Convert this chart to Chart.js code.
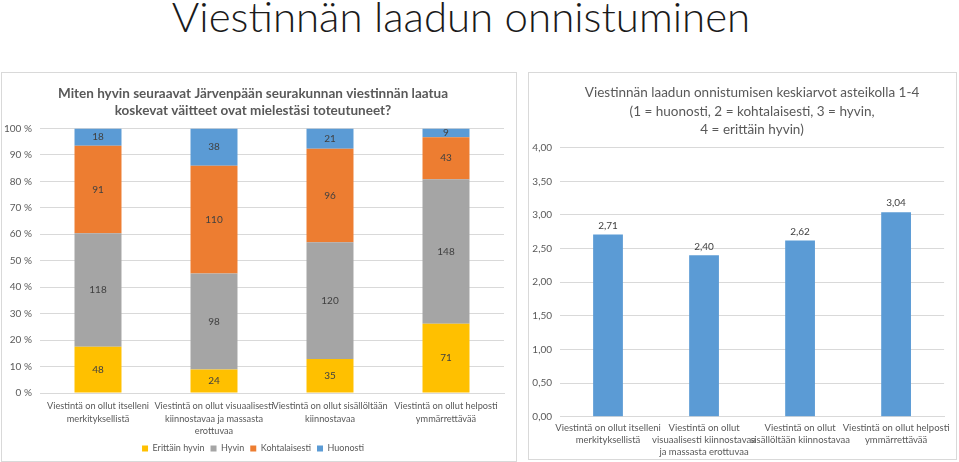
<!DOCTYPE html>
<html>
<head>
<meta charset="utf-8">
<script src="https://cdn.jsdelivr.net/npm/chart.js@4"></script>
<style>
  body { margin: 0; background: #fff; width: 959px; height: 462px; overflow: hidden; position: relative; font-family: Lato, sans-serif; }
  #mainTitle { position: absolute; left: 0; width: 922px; top: -9px; text-align: center; font-size: 42px; font-weight: 300; color: #1a1a1a; white-space: nowrap; }
  .box { position: absolute; border: 1px solid #d9d9d9; background: #fff; }
  .box canvas { display: block; }
</style>
</head>
<body>
<div id="mainTitle">Viestinnän laadun onnistuminen</div>
<div class="box" style="left:1px; top:72px; width:514px; height:388px;">
  <canvas id="stackChart" width="514" height="388"></canvas>
</div>
<div class="box" style="left:528px; top:72px; width:427px; height:386px;">
  <canvas id="avgChart" width="427" height="386"></canvas>
</div>
<script>
// Kategoriat (vasen kaavio)
const leftLabels = [
    ['Viestintä on ollut itselleni', 'merkityksellistä'],
    ['Viestintä on ollut visuaalisesti', 'kiinnostavaa ja massasta', 'erottuvaa'],
    ['Viestintä on ollut sisällöltään', 'kiinnostavaa'],
    ['Viestintä on ollut helposti', 'ymmärrettävää']
];
// Kategoriat (oikea kaavio)
const rightLabels = [
    ['Viestintä on ollut itselleni', 'merkityksellistä'],
    ['Viestintä on ollut', 'visuaalisesti kiinnostavaa', 'ja massasta erottuvaa'],
    ['Viestintä on ollut', 'sisällöltään kiinnostavaa'],
    ['Viestintä on ollut helposti', 'ymmärrettävää']
];

// Vastausmäärät
const erittainHyvin = [48, 24, 35, 71];
const hyvin = [118, 98, 120, 148];
const kohtalaisesti = [91, 110, 96, 43];
const huonosti = [18, 38, 21, 9];

// Keskiarvot 1-4
const keskiarvot = [2.71, 2.40, 2.62, 3.04];

const percentTicks = [0, 10, 20, 30, 40, 50, 60, 70, 80, 90, 100];

const txt = '#595959';
const gridCol = '#d9d9d9';
const font = 'Lato';

const totals = erittainHyvin.map((v, i) => v + hyvin[i] + kohtalaisesti[i] + huonosti[i]);
const toPct = arr => arr.map((v, i) => v / totals[i] * 100);

const series = [
    { label: 'Erittäin hyvin', counts: erittainHyvin, color: '#FFC000' },
    { label: 'Hyvin', counts: hyvin, color: '#A5A5A5' },
    { label: 'Kohtalaisesti', counts: kohtalaisesti, color: '#ED7D31' },
    { label: 'Huonosti', counts: huonosti, color: '#5B9BD5' }
];

// Arvot palkkien sisään / päälle
const valueLabels = {
    id: 'valueLabels',
    afterDatasetsDraw(chart, args, opts) {
        const ctx = chart.ctx;
        ctx.save();
        ctx.font = '10px ' + font;
        ctx.fillStyle = '#404040';
        ctx.textAlign = 'center';
        ctx.textBaseline = 'middle';
        chart.data.datasets.forEach((ds, di) => {
            chart.getDatasetMeta(di).data.forEach((bar, i) => {
                if (opts.mode === 'inside') {
                    ctx.fillText(String(ds.counts[i]), bar.x, (bar.y + bar.base) / 2);
                } else {
                    ctx.fillText(ds.data[i].toFixed(2).replace('.', ','), bar.x, bar.y - 9);
                }
            });
        });
        ctx.restore();
    }
};

window.onload = () => {
    new Chart(document.getElementById('stackChart'), {
        type: 'bar',
        data: {
            labels: leftLabels,
            datasets: series.map(s => ({
                label: s.label,
                data: toPct(s.counts),
                counts: s.counts,
                backgroundColor: s.color,
                barPercentage: 0.405,
                categoryPercentage: 1
            }))
        },
        options: {
            responsive: false,
            animation: false,
            layout: { padding: { left: 0, right: 12, top: 13, bottom: -2 } },
            plugins: {
                title: {
                    display: true,
                    text: ['Miten hyvin seuraavat Järvenpään seurakunnan viestinnän laatua', 'koskevat väitteet ovat mielestäsi toteutuneet?'],
                    color: txt,
                    font: { family: font, size: 13.5, weight: 'bold', lineHeight: 1.2 },
                    padding: { top: 0, bottom: 10 }
                },
                legend: {
                    position: 'bottom',
                    labels: { color: txt, font: { family: font, size: 9 }, boxWidth: 6, boxHeight: 6, padding: 6 }
                },
                tooltip: { enabled: false },
                valueLabels: { mode: 'inside' }
            },
            scales: {
                x: {
                    stacked: true,
                    afterFit: s => { s.height = 45; },
                    grid: { display: false, drawTicks: false },
                    border: { color: gridCol },
                    ticks: { color: txt, font: { family: font, size: 9.2, lineHeight: 1.36 }, maxRotation: 0, autoSkip: false, padding: 7 }
                },
                y: {
                    stacked: true,
                    min: 0, max: 100,
                    afterBuildTicks: s => { s.ticks = percentTicks.map(v => ({ value: v })); },
                    afterFit: s => { s.width = 38; },
                    grid: { color: gridCol, drawTicks: false },
                    border: { display: false },
                    ticks: { color: txt, font: { family: font, size: 10 }, padding: 8, callback: v => v + ' %' }
                }
            }
        },
        plugins: [valueLabels]
    });

    new Chart(document.getElementById('avgChart'), {
        type: 'bar',
        data: {
            labels: rightLabels,
            datasets: [{
                label: 'Keskiarvo',
                data: keskiarvot,
                backgroundColor: '#5B9BD5',
                barPercentage: 0.31,
                categoryPercentage: 1
            }]
        },
        options: {
            responsive: false,
            animation: false,
            layout: { padding: { left: 0, right: 4, top: 11, bottom: -4 } },
            plugins: {
                title: {
                    display: true,
                    fullSize: false,
                    text: ['Viestinnän laadun onnistumisen keskiarvot asteikolla 1-4', '(1 = huonosti, 2 = kohtalaisesti, 3 = hyvin,', '4 = erittäin hyvin)'],
                    color: txt,
                    font: { family: font, size: 13.5, weight: 'normal', lineHeight: 1.35 },
                    padding: { top: 0, bottom: 9 }
                },
                legend: { display: false },
                tooltip: { enabled: false },
                valueLabels: { mode: 'above' }
            },
            scales: {
                x: {
                    grid: { display: false, drawTicks: false },
                    border: { color: gridCol },
                    ticks: { color: txt, font: { family: font, size: 9.5, lineHeight: 1.27 }, maxRotation: 0, autoSkip: false, padding: 5 }
                },
                y: {
                    min: 0, max: 4,
                    afterFit: s => { s.width = 31; },
                    grid: { color: gridCol, drawTicks: false },
                    border: { display: false },
                    ticks: { stepSize: 0.5, color: txt, font: { family: font, size: 10 }, padding: 8, callback: v => v.toFixed(2).replace('.', ',') }
                }
            }
        },
        plugins: [valueLabels]
    });
};
</script>
</body>
</html>
